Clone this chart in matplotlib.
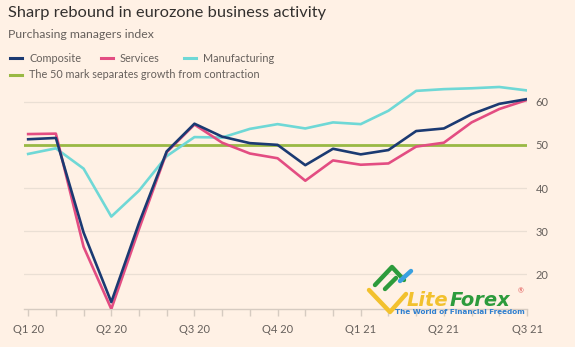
import numpy as np
import matplotlib.pyplot as plt
from matplotlib.lines import Line2D

plt.rcParams['font.family'] = ['Lato', 'DejaVu Sans']

# monthly eurozone PMI, Jan 2020 .. Jul 2021
months = np.arange(19)
composite = [51.3, 51.6, 29.7, 13.6, 31.9, 48.5, 54.9, 51.9, 50.4, 50.0,
             45.3, 49.1, 47.8, 48.8, 53.2, 53.8, 57.1, 59.5, 60.6]
services = [52.5, 52.6, 26.4, 12.0, 30.5, 48.3, 54.7, 50.5, 48.0, 46.9,
            41.7, 46.4, 45.4, 45.7, 49.6, 50.5, 55.2, 58.3, 60.4]
manufacturing = [47.9, 49.2, 44.5, 33.4, 39.4, 47.4, 51.8, 51.7, 53.7, 54.8,
                 53.8, 55.2, 54.8, 57.9, 62.5, 62.9, 63.1, 63.4, 62.6]
threshold = 50
quarter_pos = [0, 3, 6, 9, 12, 15, 18]
quarter_labels = ['Q1 20', 'Q2 20', 'Q3 20', 'Q4 20', 'Q1 21', 'Q2 21', 'Q3 21']
y_ticks = [20, 30, 40, 50, 60]

bg = '#fff1e5'
c_comp = '#1b3a72'
c_serv = '#e34d82'
c_manu = '#6fd8d6'
c_fifty = '#99b944'
text_c = '#33302e'
grey = '#66605c'

fig = plt.figure(figsize=(5.75, 3.47), dpi=100, facecolor=bg)
ax = fig.add_axes([24 / 575, 38 / 347, 503 / 575, 224.6 / 347], facecolor=bg)

ax.axhline(threshold, color=c_fifty, lw=2.0, zorder=2)
ax.plot(months, manufacturing, color=c_manu, lw=1.9, zorder=3)
ax.plot(months, services, color=c_serv, lw=1.9, zorder=4)
ax.plot(months, composite, color=c_comp, lw=1.9, zorder=5)

ax.set_xlim(-0.15, 18.0)
ax.set_ylim(12, 64)
for s in ['top', 'left', 'right']:
    ax.spines[s].set_visible(False)
ax.spines['bottom'].set_color('#d6cbc1')
ax.spines['bottom'].set_linewidth(1.0)

ax.yaxis.tick_right()
ax.set_yticks(y_ticks)
ax.set_yticklabels([str(v) for v in y_ticks])
ax.tick_params(axis='y', length=0, pad=6, labelsize=8, labelcolor=grey)
ax.grid(axis='y', color='#eadfd4', lw=0.9, zorder=1)

ax.set_xticks(months, minor=True)
ax.set_xticks(quarter_pos)
ax.set_xticklabels(quarter_labels)
ax.tick_params(axis='x', which='both', length=5, color='#d6cbc1', width=1.0,
               labelsize=8, labelcolor=grey, pad=6)

fig.text(8 / 575, 1 - 13 / 347, 'Sharp rebound in eurozone business activity',
         fontsize=11.8, color=text_c, va='center')
fig.text(8 / 575, 1 - 35 / 347, 'Purchasing managers index',
         fontsize=8.8, color=grey, va='center')

# legend, drawn by hand in figure pixels
legend_items = [(10, 58, c_comp, 'Composite'), (101, 58, c_serv, 'Services'),
                (184, 58, c_manu, 'Manufacturing'),
                (10, 75, c_fifty, 'The 50 mark separates growth from contraction')]
for x0, y0, col, label in legend_items:
    fig.add_artist(Line2D([x0 / 575, (x0 + 12) / 575], [1 - y0 / 347] * 2,
                          color=col, lw=2.2, transform=fig.transFigure))
    fig.text((x0 + 19) / 575, 1 - y0 / 347, label, fontsize=7.8,
             color=grey, va='center')

# watermark
def px(x, y):
    return x / 575, 1 - y / 347

for pts, col in [([(369, 290), (390, 312), (406, 294)], '#f2c12e'),
                 ([(375, 285), (392, 267), (404, 280)], '#2d9b3c'),
                 ([(385, 289), (396, 278)], '#2d9b3c'),
                 ([(400, 281), (411, 271)], '#3aa0e0')]:
    xs, ys = zip(*[px(*p) for p in pts])
    fig.add_artist(Line2D(xs, ys, color=col, lw=3.2, solid_capstyle='round',
                          transform=fig.transFigure))
x, y = px(407, 300)
lite = fig.text(x, y, 'Lite', fontsize=14, fontweight='bold', style='italic',
                color='#f2c12e', va='center', family='DejaVu Sans')
fig.canvas.draw()
lite_right = lite.get_window_extent().x1 / 575
fig.text(lite_right + 1 / 575, y, 'Forex', fontsize=14, fontweight='bold',
         style='italic', color='#2d9b3c', va='center', family='DejaVu Sans')
x, y = px(518, 291)
fig.text(x, y, '®', fontsize=5, color='#e05050', va='center')
x, y = px(460, 312)
fig.text(x, y, 'The World of Financial Freedom', fontsize=5.2, fontweight='bold',
         color='#2f7fcf', va='center', ha='center', family='DejaVu Sans')

fig.savefig('out.png', dpi=100, facecolor=bg)
